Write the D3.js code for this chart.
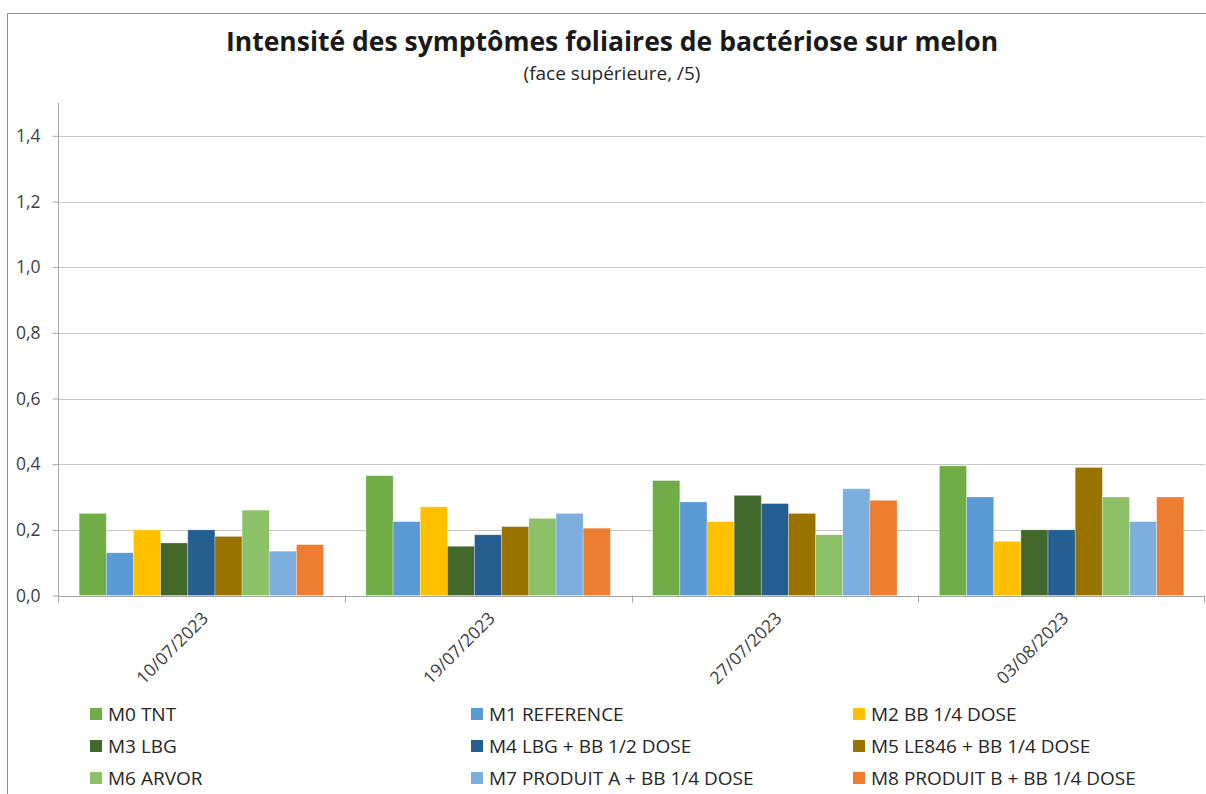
<!DOCTYPE html>
<html>
<head>
<meta charset="utf-8">
<script src="https://cdn.jsdelivr.net/npm/d3@7"></script>
<style>
  body { margin: 0; background: #fff; }
  svg { font-family: "Open Sans", sans-serif; }
</style>
</head>
<body>
<div id="chart"></div>
<script>
// dates (categories)
const dates = ['10/07/2023', '19/07/2023', '27/07/2023', '03/08/2023']

// treatments (series)
const series = ['M0 TNT', 'M1 REFERENCE', 'M2 BB 1/4 DOSE', 'M3 LBG', 'M4 LBG + BB 1/2 DOSE',
  'M5 LE846 + BB 1/4 DOSE', 'M6 ARVOR', 'M7 PRODUIT A + BB 1/4 DOSE', 'M8 PRODUIT B + BB 1/4 DOSE']

const colors = ['#70AD47', '#5B9BD5', '#FFC000', '#43682B', '#255E91', '#997300', '#8CC168', '#7CAFDD', '#ED7D31']

// one array per date, values in series order
const d1 = [0.25, 0.13, 0.20, 0.16, 0.20, 0.18, 0.26, 0.135, 0.155]
const d2 = [0.365, 0.225, 0.27, 0.15, 0.185, 0.21, 0.235, 0.25, 0.205]
const d3v = [0.35, 0.285, 0.225, 0.305, 0.28, 0.25, 0.185, 0.325, 0.29]
const d4 = [0.395, 0.30, 0.165, 0.20, 0.20, 0.39, 0.30, 0.225, 0.30]
const values = [d1, d2, d3v, d4]

const yTicks = [0, 0.2, 0.4, 0.6, 0.8, 1.0, 1.2, 1.4]

let width = 1206
let height = 794

const svg = d3.select('#chart')
  .append('svg')
  .attr('width', width)
  .attr('height', height)

// outer frame
svg.append('rect')
  .attr('x', 7.5)
  .attr('y', 13.5)
  .attr('width', 1200)
  .attr('height', 790)
  .attr('fill', 'none')
  .attr('stroke', '#8c8c8c')

let plotLeft = 58
let plotRight = 1205
let plotTop = 103
let plotBottom = 595.5

let xScale = d3.scaleBand()
  .domain(dates)
  .range([plotLeft, plotRight])

let inner = d3.scaleBand()
  .domain(series)
  .range([0, xScale.bandwidth()])
  .paddingOuter(0.78)

let yScale = d3.scaleLinear()
  .domain([0, 1.5])
  .range([plotBottom, plotTop])

// gridlines
svg.append('g')
  .selectAll('line')
  .data(yTicks.slice(1))
  .join('line')
  .attr('x1', plotLeft)
  .attr('x2', plotRight)
  .attr('y1', d => Math.round(yScale(d)) + 0.5)
  .attr('y2', d => Math.round(yScale(d)) + 0.5)
  .attr('stroke', '#c8c8c8')
  .attr('stroke-width', 1.2)

// y axis
const yAxis = g => g
  .attr('transform', `translate(${plotLeft + 0.5},0)`)
  .call(d3.axisLeft(yScale).tickValues(yTicks).tickSize(6).tickPadding(12)
    .tickFormat(d => d3.format('.1f')(d).replace('.', ',')))
  .call(g => g.select('.domain').attr('d', `M0,${plotTop}V${plotBottom + 7}`))
  .call(g => g.selectAll('line').attr('stroke', '#a6a6a6'))
  .call(g => g.select('.domain').attr('stroke', '#a6a6a6'))
  .call(g => g.selectAll('text').attr('font-size', 17.5).attr('fill', '#404040')
    .attr('font-family', '"Open Sans", sans-serif'))

svg.append('g').call(yAxis)

// bars
const groups = svg.append('g')
  .selectAll('g')
  .data(dates)
  .join('g')
  .attr('transform', d => `translate(${xScale(d)},0)`)

groups.selectAll('rect')
  .data((d, i) => values[i].map((v, j) => ({ s: series[j], v: v, c: colors[j] })))
  .join('rect')
  .attr('x', d => inner(d.s))
  .attr('width', inner.bandwidth())
  .attr('y', d => yScale(d.v))
  .attr('height', d => plotBottom - yScale(d.v))
  .attr('fill', d => d.c)
  .attr('stroke', 'rgba(255,255,255,0.35)')
  .attr('stroke-width', 0.8)

// x axis line and separator ticks
svg.append('line')
  .attr('x1', plotLeft)
  .attr('x2', plotRight)
  .attr('y1', Math.round(plotBottom) + 0.5)
  .attr('y2', Math.round(plotBottom) + 0.5)
  .attr('stroke', '#a6a6a6')
  .attr('stroke-width', 1.2)

svg.append('g')
  .selectAll('line')
  .data(dates.slice(1).concat(['end']))
  .join('line')
  .attr('x1', d => d === 'end' ? plotRight - 0.5 : Math.round(xScale(d)) + 0.5)
  .attr('x2', d => d === 'end' ? plotRight - 0.5 : Math.round(xScale(d)) + 0.5)
  .attr('y1', plotBottom)
  .attr('y2', plotBottom + 7)
  .attr('stroke', '#a6a6a6')

// rotated date labels
svg.append('g')
  .selectAll('text')
  .data(dates)
  .join('text')
  .attr('transform', d => `translate(${xScale(d) + xScale.bandwidth() / 2 + 8},${plotBottom + 24}) rotate(-45)`)
  .attr('text-anchor', 'end')
  .attr('font-size', 17.5)
  .attr('fill', '#404040')
  .text(d => d)

// title
svg.append('text')
  .attr('x', 612)
  .attr('y', 51)
  .attr('text-anchor', 'middle')
  .attr('font-size', 26.5)
  .attr('font-weight', 'bold')
  .attr('fill', '#1a1a1a')
  .text('Intensité des symptômes foliaires de bactériose sur melon')

svg.append('text')
  .attr('x', 612)
  .attr('y', 80)
  .attr('text-anchor', 'middle')
  .attr('font-size', 19)
  .attr('fill', '#262626')
  .text('(face supérieure, /5)')

// legend, 3 columns
let legendX = [90, 471, 853]
let legendY = [714, 746, 778]

const legend = svg.append('g')
  .selectAll('g')
  .data(series)
  .join('g')
  .attr('transform', (d, i) => `translate(${legendX[i % 3]},${legendY[Math.floor(i / 3)]})`)

legend.append('rect')
  .attr('x', 0)
  .attr('y', -6)
  .attr('width', 12)
  .attr('height', 12)
  .attr('fill', (d, i) => colors[i])

legend.append('text')
  .attr('x', 18)
  .attr('y', 7)
  .attr('font-size', 19)
  .attr('fill', '#262626')
  .text(d => d)
</script>
</body>
</html>
